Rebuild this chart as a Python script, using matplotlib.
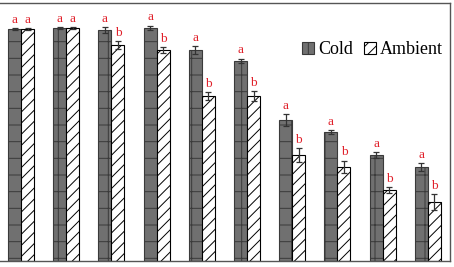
import matplotlib.pyplot as plt
import numpy as np

plt.rcParams['hatch.linewidth'] = 0.7

# valores
grupos = np.arange(10)
frio = [98.9, 99.4, 98.5, 99.4, 90.0, 85.3, 60.1, 55.0, 45.2, 40.1]
frio_err = [0.4, 0.4, 1.3, 0.9, 1.7, 0.9, 2.6, 0.9, 1.3, 1.7]
ambiente = [98.9, 99.4, 92.1, 90.0, 70.4, 70.4, 45.2, 40.1, 30.3, 25.2]
ambiente_err = [0.4, 0.4, 1.7, 1.3, 1.7, 2.1, 2.8, 2.6, 1.3, 3.4]
letras_frio = ['a'] * 10
letras_amb = ['a', 'a', 'b', 'b', 'b', 'b', 'b', 'b', 'b', 'b']

fig = plt.figure(figsize=(4.54, 2.67), dpi=100)
ax = fig.add_axes([0, 0.0225, 450 / 454, 0.9663])

larg = 0.288
ax.bar(grupos - larg / 2, frio, larg, color='#707070', edgecolor='#3a3a3a',
       hatch='+', linewidth=0.8, label='Cold')
ax.bar(grupos + larg / 2, ambiente, larg, color='white', edgecolor='black',
       hatch='///', linewidth=0.8, label='Ambient')
ax.errorbar(grupos - larg / 2, frio, yerr=frio_err, fmt='none', ecolor='#333333',
            elinewidth=0.9, capsize=2.5, capthick=0.9)
ax.errorbar(grupos + larg / 2, ambiente, yerr=ambiente_err, fmt='none', ecolor='#333333',
            elinewidth=0.9, capsize=2.5, capthick=0.9)

# letras de significancia
for i in grupos:
    ax.text(i - larg / 2, frio[i] + frio_err[i] + 1.0, letras_frio[i], color='#e0202a',
            ha='center', va='bottom', fontsize=9.5, family='Liberation Serif')
    ax.text(i + larg / 2, ambiente[i] + ambiente_err[i] + 1.0, letras_amb[i], color='#e0202a',
            ha='center', va='bottom', fontsize=9.5, family='Liberation Serif')

ax.set_xlim(-0.465, 9.49)
ax.set_ylim(0, 110)
ax.set_xticks([])
ax.set_yticks([])
ax.spines['left'].set_visible(False)
for s in ['top', 'right', 'bottom']:
    ax.spines[s].set_color('#555555')
    ax.spines[s].set_linewidth(1.0)

ax.legend(loc='upper right', bbox_to_anchor=(1.0, 0.88), ncol=2, frameon=False,
          prop={'family': 'Liberation Serif', 'size': 13}, handlelength=0.7,
          handleheight=0.7, handletextpad=0.2, columnspacing=0.6, borderaxespad=0.0)

fig.savefig('out.png', dpi=100)
